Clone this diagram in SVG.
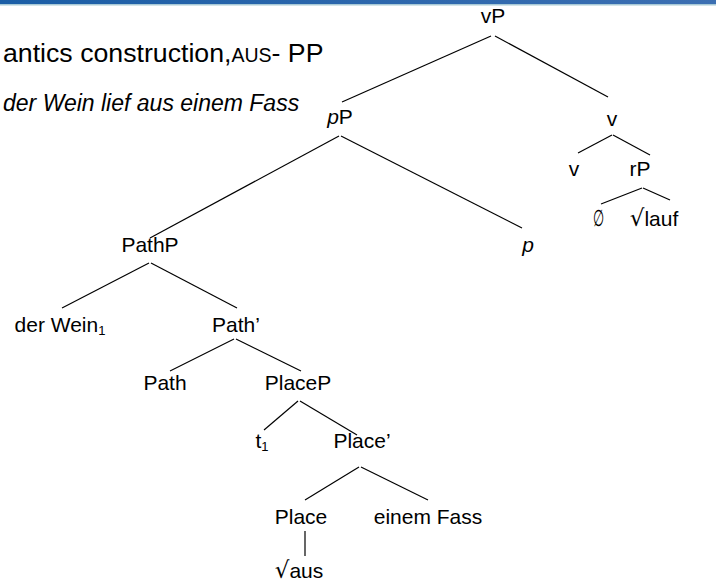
<svg xmlns="http://www.w3.org/2000/svg" width="716" height="582" viewBox="0 0 716 582">
  <style>
    .lbl { font-family: "Liberation Sans", Arial, sans-serif; font-size: 21px; fill: #000; text-anchor: middle; }
    .it { font-style: italic; }
    .sub { font-size: 13px; }
    .rad { font-family: "DejaVu Sans", sans-serif; font-size: 23px; }
    .edge { stroke: #000; stroke-width: 1.2; fill: none; }
  </style>
  <defs>
    <linearGradient id="bar" x1="0" y1="0" x2="1" y2="0">
      <stop offset="0" stop-color="#1b5ea6"/>
      <stop offset="1" stop-color="#3c6fb2"/>
    </linearGradient>
  </defs>
  <rect width="716" height="582" fill="#fff"/>
  <!-- header band -->
  <rect x="0" y="0" width="716" height="4" fill="url(#bar)"/>
  <rect x="0" y="4" width="716" height="1.5" fill="#a8c9d6"/>

  <!-- slide heading and example sentence -->
  <text x="3" y="62" font-family="Liberation Sans, Arial, sans-serif" font-size="26.7px">antics construction,<tspan font-size="19.5px">AUS</tspan>- PP</text>
  <text x="3" y="111" font-family="Liberation Sans, Arial, sans-serif" font-size="23px" font-style="italic">der Wein lief aus einem Fass</text>

  <g id="connectors">
    <line class="edge" x1="491" y1="36" x2="342" y2="102"/>
    <line class="edge" x1="495" y1="36" x2="608" y2="97"/>
    <line class="edge" x1="339" y1="136" x2="150" y2="238"/>
    <line class="edge" x1="341" y1="136" x2="522" y2="228"/>
    <line class="edge" x1="612" y1="135" x2="578" y2="153"/>
    <line class="edge" x1="613" y1="135" x2="650" y2="155"/>
    <line class="edge" x1="642" y1="188" x2="601" y2="204"/>
    <line class="edge" x1="643" y1="188" x2="670" y2="200"/>
    <line class="edge" x1="149" y1="263" x2="62" y2="308"/>
    <line class="edge" x1="151" y1="263" x2="237" y2="308"/>
    <line class="edge" x1="234" y1="339" x2="170" y2="371"/>
    <line class="edge" x1="236" y1="339" x2="301" y2="371"/>
    <line class="edge" x1="298" y1="401" x2="264" y2="430"/>
    <line class="edge" x1="300" y1="401" x2="357" y2="435"/>
    <line class="edge" x1="359" y1="467" x2="305" y2="500"/>
    <line class="edge" x1="361" y1="467" x2="428" y2="500"/>
    <line class="edge" x1="305" y1="531" x2="305" y2="556"/>
  </g>

  <g id="vP"><text class="lbl" x="493" y="23">vP</text></g>
  <g id="pP"><text class="lbl" x="340" y="124"><tspan class="it">p</tspan>P</text></g>
  <g id="v-bar"><text class="lbl" x="612" y="126">v</text></g>
  <g id="v-head"><text class="lbl" x="574" y="176">v</text></g>
  <g id="rP"><text class="lbl" x="640" y="176">rP</text></g>
  <g id="empty"><text class="lbl" x="0" y="0" transform="translate(598 226) scale(0.6 1.08)" font-family="DejaVu Sans, sans-serif" font-size="22px">∅</text></g>
  <g id="root-lauf"><text class="lbl" x="654" y="226"><tspan class="rad">√</tspan>lauf</text></g>
  <g id="PathP"><text class="lbl" x="150" y="252">PathP</text></g>
  <g id="p"><text class="lbl it" x="528" y="252">p</text></g>
  <g id="der-Wein"><text class="lbl" x="60" y="332">der Wein<tspan class="sub" dy="3">1</tspan></text></g>
  <g id="Path-bar"><text class="lbl" x="236" y="332">Path’</text></g>
  <g id="Path"><text class="lbl" x="165" y="390">Path</text></g>
  <g id="PlaceP"><text class="lbl" x="298" y="390">PlaceP</text></g>
  <g id="t1"><text class="lbl" x="262" y="448">t<tspan class="sub" dy="3">1</tspan></text></g>
  <g id="Place-bar"><text class="lbl" x="362" y="448">Place’</text></g>
  <g id="Place"><text class="lbl" x="301" y="524">Place</text></g>
  <g id="einem-Fass"><text class="lbl" x="428" y="524">einem Fass</text></g>
  <g id="root-aus"><text class="lbl" x="299" y="578"><tspan class="rad">√</tspan>aus</text></g>
</svg>
